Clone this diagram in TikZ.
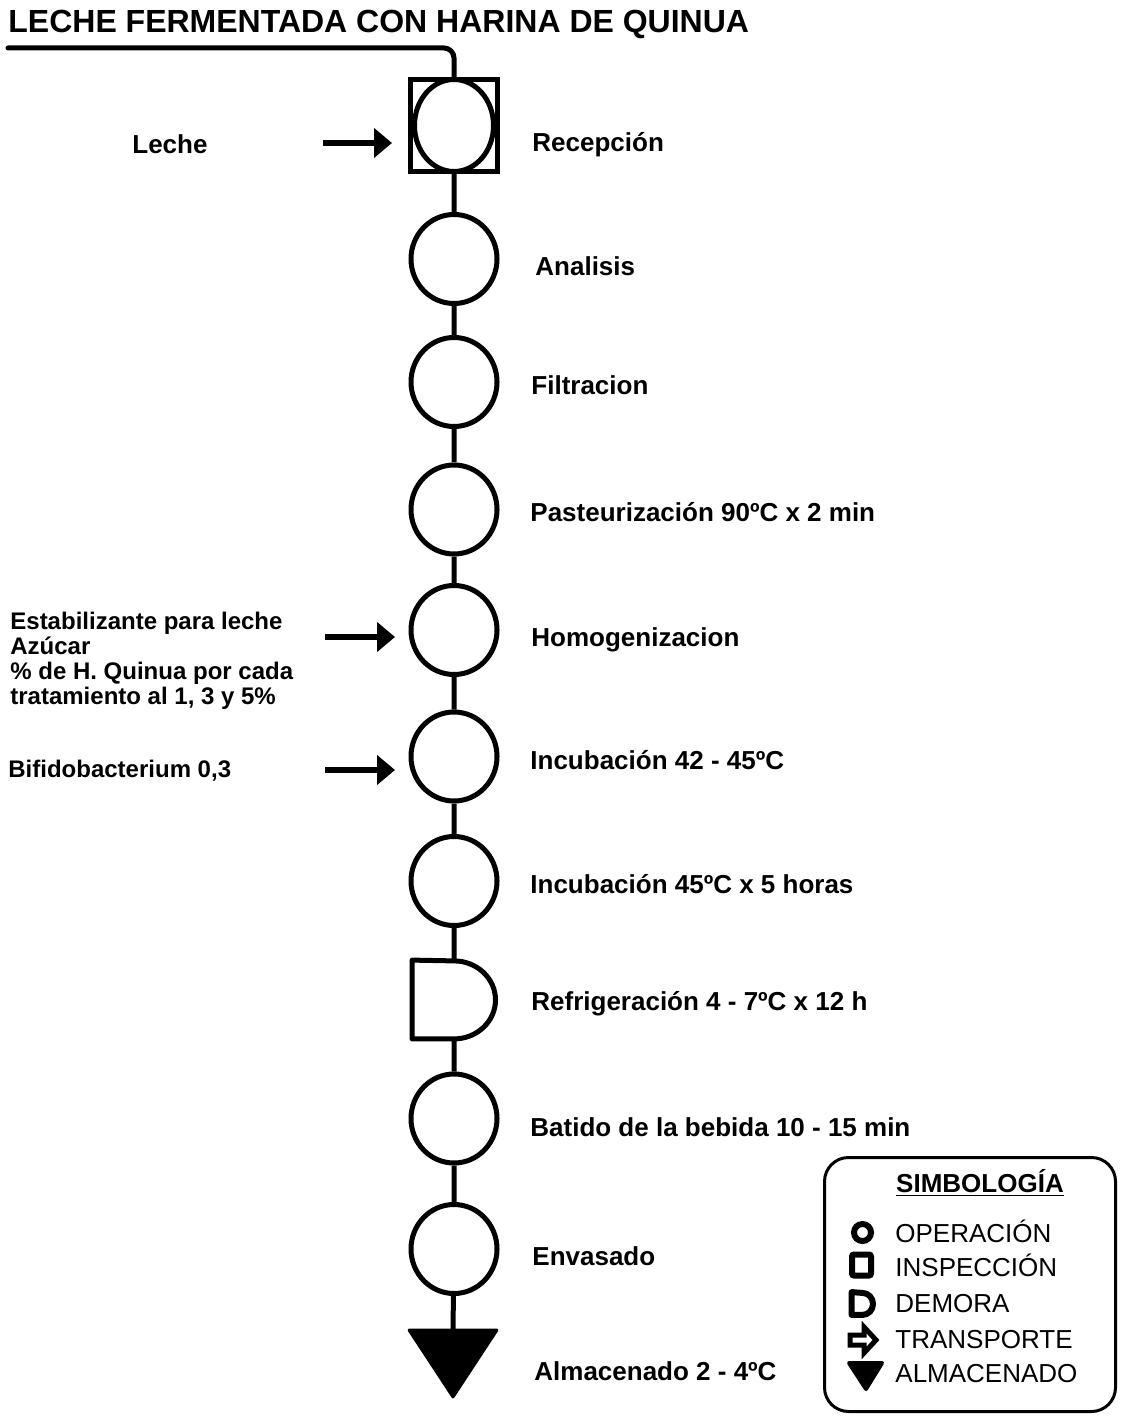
\documentclass[tikz,border=0pt]{standalone}
\usepackage{fontspec}
\setmainfont{Liberation Sans}
\usetikzlibrary{shapes.geometric,arrows.meta}

\tikzset{
  oper/.style={ellipse, draw, line width=2.5pt, minimum width=43pt, minimum height=44.5pt, inner sep=0pt},
  paso/.style={anchor=base west, inner sep=0pt, font=\fontsize{13}{15}\selectfont\bfseries},
  insumo/.style={anchor=base west, inner sep=0pt, font=\fontsize{12}{12.5}\selectfont\bfseries},
  linea/.style={line width=2.5pt},
  flecha/.style={line width=3pt, -{Triangle[length=9pt,width=14.5pt]}},
  leyenda/.style={anchor=base west, inner sep=0pt, font=\fontsize{13}{15}\selectfont},
}

\begin{document}
\begin{tikzpicture}[x=0.5pt,y=-0.5pt]
\useasboundingbox (0,0) rectangle (1120,1416);

\node[anchor=base west, inner sep=0pt, font=\fontsize{16}{18}\selectfont\bfseries] (titulo) at (8,33) {LECHE FERMENTADA CON HARINA DE QUINUA};

% recepcion: inspeccion y operacion
\node[draw, line width=2.5pt, minimum width=43.5pt, minimum height=46pt, inner sep=0pt] (insp) at (454,125.5) {};
\node[oper, minimum width=39.5pt, minimum height=46pt] (rec) at (454,125.5) {};
\coordinate (ini) at (8,48);
\draw[linea, line cap=round, rounded corners=5pt] (ini) -| (insp.north);

\node[oper] (ana) at (454,259) {};
\node[oper] (fil) at (454,382) {};
\node[oper] (pas) at (454,509.5) {};
\node[oper] (hom) at (454,630) {};
\node[oper] (inc) at (454,756.5) {};
\node[oper] (fer) at (454,881) {};
\node[minimum width=41.5pt, minimum height=39pt, inner sep=0pt] (dem) at (454,999.5) {};
\draw[linea, line join=round] (dem.south) arc[start angle=-90, end angle=90, x radius=20.75pt, y radius=19.5pt] -- (dem.north west) -- (dem.south west) -- cycle;
\node[oper] (bat) at (454,1118.5) {};
\node[oper] (env) at (454,1249) {};
\node[minimum width=43.5pt, minimum height=33pt, inner sep=0pt] (alm) at (453,1363.5) {};
\fill[draw, line width=1.5pt, line join=round] (alm.north west) -- (alm.north east) -- (alm.south) -- cycle;

\draw[linea] (insp) -- (ana) (ana) -- (fil) (fil) -- (pas) (pas) -- (hom) (hom) -- (inc)
  (inc) -- (fer) (fer) -- (dem.north) (dem.south) -- (bat) (bat) -- (env) (env) -- (alm.north);

% etapas
\node[paso] at (532,152) {Recepción};
\node[paso] at (535,276) {Analisis};
\node[paso] at (531,395) {Filtracion};
\node[paso] at (530,522) {Pasteurización 90ºC x 2 min};
\node[paso] at (531,646) {Homogenizacion};
\node[paso] at (530,769) {Incubación 42 - 45ºC};
\node[paso] at (530,893) {Incubación 45ºC x 5 horas};
\node[paso] at (531,1010) {Refrigeración 4 - 7ºC x 12 h};
\node[paso] at (530,1136) {Batido de la bebida 10 - 15 min};
\node[paso] at (532,1265) {Envasado};
\node[paso] at (534,1380) {Almacenado 2 - 4ºC};

% entradas
\node[paso] (leche) at (132,154) {Leche};
\node[insumo] (est) at (10,629) {Estabilizante para leche};
\node[insumo] (azu) at (10,654) {Azúcar};
\node[insumo] (qui) at (10,679) {\% de H. Quinua por cada};
\node[insumo] (tra) at (10,704) {tratamiento al 1, 3 y 5\%};
\node[insumo] (bif) at (8,777) {Bifidobacterium 0,3};
\coordinate (e1) at (323,143);
\coordinate (f1) at (392,143);
\coordinate (e2) at (325,637);
\coordinate (f2) at (395,637);
\coordinate (e3) at (325,770);
\coordinate (f3) at (395,770);
\draw[flecha] (e1) -- (f1);
\draw[flecha] (e2) -- (f2);
\draw[flecha] (e3) -- (f3);

% simbologia
\node[draw, line width=1.5pt, rounded corners=12pt, minimum width=145.5pt, minimum height=127pt] (ley) at (970,1284.5) {};
\node[anchor=base, inner sep=0pt, font=\fontsize{13}{15}\selectfont\bfseries] (sim) at (980,1192) {\underline{SIMBOLOGÍA}};
\node[circle, draw, line width=3pt, minimum size=8.5pt, inner sep=0pt] (s1) at (862.5,1232.5) {};
\node[draw, line width=3pt, minimum width=9.5pt, minimum height=10.5pt, inner sep=0pt, rounded corners=1pt] (s2) at (861.5,1265) {};
\node[minimum width=10.5pt, minimum height=11pt, inner sep=0pt] (s3) at (862.5,1303.5) {};
\draw[line width=3pt, line join=round] (s3.south) arc[start angle=-90, end angle=90, x radius=5.25pt, y radius=5.5pt] -- (s3.north west) -- (s3.south west) -- cycle;
\draw[line width=2.5pt, line join=miter] (850,1335) -- (864,1335) -- (864,1327) -- (876,1340) -- (864,1353) -- (864,1345) -- (850,1345) -- cycle;
\fill[draw, line width=2pt, line join=round] (849,1363) -- (882,1363) -- (866,1389) -- cycle;
\node[leyenda] at (895,1242) {OPERACIÓN};
\node[leyenda] at (895,1276) {INSPECCIÓN};
\node[leyenda] at (895,1312) {DEMORA};
\node[leyenda] at (895,1348) {TRANSPORTE};
\node[leyenda] at (895,1382) {ALMACENADO};
\end{tikzpicture}
\end{document}
